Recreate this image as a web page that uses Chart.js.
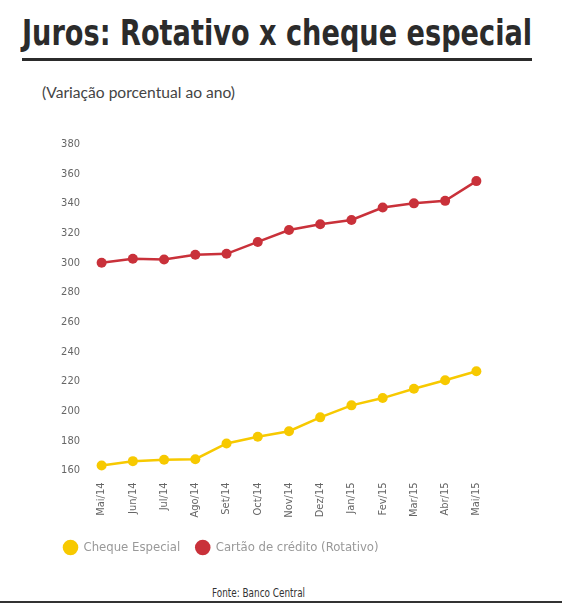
<!DOCTYPE html>
<html>
<head>
<meta charset="utf-8">
<script src="https://cdn.jsdelivr.net/npm/chart.js@4"></script>
<style>
  body { margin: 0; background: #fff; width: 562px; height: 604px; position: relative; overflow: hidden; }
  #titulo { position: absolute; left: 22px; top: 12px; margin: 0; font: bold 36px "Liberation Sans Narrow", "DejaVu Sans Condensed", sans-serif; color: #2b2b2b; white-space: nowrap; transform-origin: 0 0; }
  #linha { position: absolute; left: 22px; top: 58px; width: 510px; height: 3px; background: #2b2b2b; }
  #sub { position: absolute; left: 42px; top: 83px; font: 15.6px Lato, sans-serif; color: #444; }
  #caixa { position: absolute; left: 0; top: 120px; width: 562px; height: 460px; }
  #fonte { position: absolute; left: 212px; top: 585px; font: 12.5px "Liberation Sans Narrow", "DejaVu Sans Condensed", sans-serif; color: #333; white-space: nowrap; transform-origin: 0 0; }
  #base { position: absolute; left: 0; top: 601px; width: 562px; height: 2px; background: #333; }
</style>
</head>
<body>
<h1 id="titulo">Juros: Rotativo x cheque especial</h1>
<div id="linha"></div>
<div id="sub">(Variação porcentual ao ano)</div>
<div id="caixa"><canvas id="grafico"></canvas></div>
<div id="fonte">Fonte: Banco Central</div>
<div id="base"></div>
<script>
const meses = ["Mai/14", "Jun/14", "Jul/14", "Ago/14", "Set/14", "Oct/14", "Nov/14",
  "Dez/14", "Jan/15", "Fev/15", "Mar/15", "Abr/15", "Mai/15"];
const chequeEspecial = [163.4, 166.3, 167.2, 167.6, 178.2, 182.7, 186.5, 195.8, 203.9, 208.8, 215.1, 220.8, 226.9];
const rotativo = [300, 302.7, 302.2, 305.4, 306, 314, 322, 325.9, 328.8, 337.2, 340, 341.7, 355];
const ticksY = [160, 180, 200, 220, 240, 260, 280, 300, 320, 340, 360, 380];

// ajusta a largura dos textos estreitos
const titulo = document.querySelector("#titulo");
titulo.style.transform = "scaleX(" + (510 / titulo.scrollWidth) + ")";
const fonte = document.querySelector("#fonte");
fonte.style.transform = "scaleX(" + (93 / fonte.scrollWidth) + ")";

const fonteEstreita = '"Liberation Sans Narrow", "DejaVu Sans Condensed", sans-serif';

const ctx = document.querySelector("#grafico").getContext("2d");
const grafico = new Chart(ctx, {
  type: "line",
  data: {
    labels: meses,
    datasets: [
      {
        label: "Cheque Especial",
        data: chequeEspecial,
        borderColor: "#f7c900",
        backgroundColor: "#f7c900",
        borderWidth: 2.5,
        pointRadius: 5,
        pointBorderWidth: 0,
        clip: false,
      },
      {
        label: "Cartão de crédito (Rotativo)",
        data: rotativo,
        borderColor: "#c9313a",
        backgroundColor: "#c9313a",
        borderWidth: 2.5,
        pointRadius: 5,
        pointBorderWidth: 0,
        clip: false,
      },
    ],
  },
  options: {
    responsive: true,
    maintainAspectRatio: false,
    animation: false,
    layout: { padding: { top: 24, left: 48, right: 70, bottom: 16 } },
    plugins: {
      tooltip: { enabled: false },
      legend: {
        position: "bottom",
        align: "start",
        labels: {
          usePointStyle: true,
          pointStyle: "circle",
          boxHeight: 11,
          padding: 16,
          color: "#999",
          font: { family: fonteEstreita, size: 13 },
        },
      },
    },
    scales: {
      x: {
        offset: true,
        grid: { display: false, drawTicks: false },
        border: { display: false },
        ticks: {
          minRotation: 90,
          maxRotation: 90,
          padding: 12,
          color: "#666",
          font: { family: fonteEstreita, size: 11 },
        },
        afterFit: (s) => { s.height = 54.5; },
      },
      y: {
        min: 160,
        max: 380,
        grid: { display: false, drawTicks: false },
        border: { display: false },
        afterBuildTicks: (s) => { s.ticks = ticksY.map((v) => ({ value: v })); },
        ticks: {
          padding: 6,
          color: "#666",
          font: { family: fonteEstreita, size: 11 },
        },
        afterFit: (s) => { s.width = 38; },
      },
    },
  },
});
</script>
</body>
</html>
